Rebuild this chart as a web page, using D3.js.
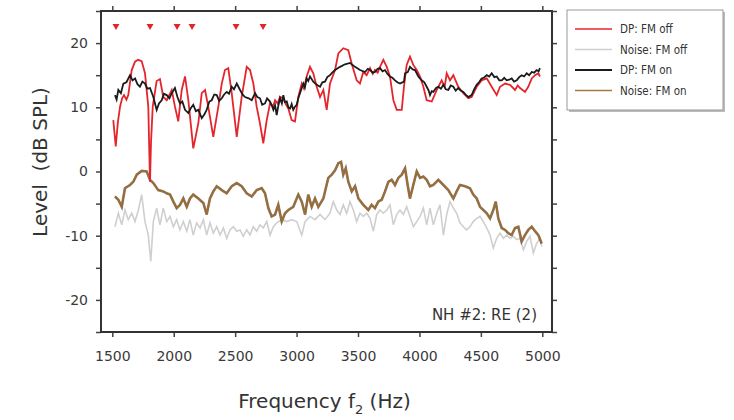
<!DOCTYPE html>
<html>
<head>
<meta charset="utf-8">
<script src="https://cdn.jsdelivr.net/npm/d3@7"></script>
<style>
  body { margin: 0; background: #fff; }
  svg { font-family: "DejaVu Sans", Verdana, sans-serif; }
</style>
</head>
<body>
<svg id="chart" width="734" height="420"></svg>
<script>
// series: [frequency f2 (Hz), level (dB SPL)]
var dpOff = [[1508,8.0],[1528,3.9],[1545,7.6],[1563,10.1],[1580,11.4],[1595,11.9],[1615,11.2],[1630,11.9],[1658,15.8],[1685,17.1],[1710,17.4],[1739,17.2],[1766,15.3],[1793,10.1],[1800,4.0],[1807,-1.6],[1815,4.5],[1829,10.1],[1861,14.1],[1888,14.4],[1915,11.6],[1943,11.1],[1984,12.7],[2010,10.1],[2037,7.8],[2065,12.7],[2092,14.8],[2119,11.1],[2159,3.6],[2200,7.5],[2228,12.2],[2255,12.7],[2281,10.1],[2322,5.4],[2363,10.1],[2391,13.7],[2417,15.8],[2444,16.1],[2472,12.2],[2513,5.4],[2553,11.6],[2594,16.3],[2621,15.8],[2648,13.7],[2675,10.1],[2702,7.5],[2729,4.4],[2757,8.0],[2784,10.6],[2810,10.2],[2825,11.1],[2845,10.6],[2865,11.6],[2892,11.4],[2915,10.4],[2933,9.8],[2960,8.0],[2987,7.8],[3014,11.6],[3042,13.7],[3060,12.9],[3082,14.8],[3109,16.3],[3136,15.3],[3164,13.2],[3191,11.6],[3218,12.7],[3245,9.6],[3272,13.7],[3313,15.8],[3340,18.4],[3380,19.2],[3421,18.9],[3449,16.8],[3489,14.2],[3516,13.7],[3543,15.5],[3570,15.0],[3598,16.1],[3620,15.2],[3638,15.8],[3660,15.4],[3679,16.3],[3706,17.4],[3734,16.3],[3760,14.8],[3788,11.1],[3815,9.6],[3856,9.6],[3874,13.2],[3896,16.6],[3923,17.9],[3950,16.6],[3978,15.8],[4005,14.8],[4032,13.2],[4059,11.1],[4100,10.9],[4141,12.7],[4181,14.2],[4205,13.2],[4222,15.3],[4249,14.2],[4276,15.0],[4316,13.2],[4357,12.2],[4398,11.4],[4425,11.6],[4466,13.2],[4506,14.2],[4548,14.5],[4588,13.2],[4629,11.9],[4656,13.2],[4697,13.7],[4737,13.5],[4778,12.7],[4800,13.4],[4819,13.0],[4859,12.4],[4886,13.2],[4914,14.5],[4941,15.0],[4968,15.3],[4981,14.8]];

var noiseOff = [[1522,-8.6],[1549,-6.5],[1577,-8.3],[1603,-6.0],[1630,-7.5],[1658,-6.5],[1685,-7.8],[1712,-6.0],[1739,-3.6],[1766,-7.8],[1793,-9.9],[1813,-14.0],[1834,-7.8],[1861,-5.7],[1888,-8.3],[1915,-5.7],[1943,-7.8],[1970,-7.0],[1997,-8.6],[2024,-7.5],[2051,-9.1],[2078,-7.8],[2106,-9.3],[2132,-7.5],[2159,-9.9],[2187,-8.0],[2214,-8.8],[2241,-7.5],[2268,-9.9],[2295,-8.0],[2322,-9.6],[2350,-8.6],[2377,-9.9],[2404,-8.8],[2431,-10.4],[2458,-9.1],[2485,-8.6],[2513,-9.3],[2540,-9.1],[2566,-10.1],[2594,-9.1],[2621,-9.9],[2648,-8.6],[2675,-9.3],[2702,-8.3],[2729,-8.8],[2757,-7.8],[2784,-9.9],[2811,-8.6],[2838,-8.0],[2879,-7.5],[2920,-7.8],[2960,-7.5],[3001,-7.8],[3042,-9.9],[3069,-7.8],[3109,-7.0],[3150,-7.5],[3191,-6.7],[3231,-7.5],[3272,-6.5],[3299,-4.7],[3327,-6.0],[3354,-6.7],[3380,-5.2],[3408,-6.5],[3435,-4.7],[3462,-6.0],[3489,-7.8],[3516,-6.5],[3543,-7.0],[3571,-6.5],[3598,-7.3],[3625,-9.3],[3652,-6.7],[3679,-6.0],[3706,-6.5],[3734,-6.0],[3760,-5.2],[3788,-8.3],[3815,-6.7],[3842,-6.0],[3869,-6.7],[3896,-5.5],[3923,-7.0],[3950,-8.6],[3978,-7.8],[4005,-7.0],[4032,-5.7],[4059,-8.3],[4086,-5.7],[4113,-8.3],[4141,-6.5],[4167,-5.2],[4195,-9.9],[4222,-6.7],[4249,-4.7],[4276,-5.7],[4303,-6.5],[4330,-8.0],[4357,-8.6],[4384,-9.1],[4411,-8.6],[4438,-7.8],[4466,-7.3],[4493,-7.0],[4520,-7.8],[4548,-8.8],[4575,-9.9],[4601,-11.9],[4629,-10.4],[4656,-9.6],[4683,-10.4],[4710,-9.9],[4737,-10.4],[4764,-10.1],[4792,-10.6],[4819,-10.4],[4846,-12.2],[4873,-10.9],[4900,-10.1],[4927,-12.7],[4954,-11.2],[4981,-10.4],[4995,-11.7]];

var dpOn = [[1522,11.9],[1535,11.2],[1549,12.7],[1570,12.2],[1590,13.7],[1615,13.9],[1644,15.0],[1665,14.2],[1685,14.5],[1705,13.6],[1725,13.2],[1745,14.0],[1766,13.7],[1785,12.9],[1807,13.0],[1834,11.6],[1861,9.6],[1880,10.6],[1902,11.1],[1920,12.1],[1943,11.9],[1965,11.4],[1984,12.2],[2010,13.0],[2030,11.6],[2051,10.6],[2070,10.9],[2092,9.6],[2119,9.1],[2140,9.9],[2159,10.4],[2180,9.4],[2200,9.6],[2228,8.3],[2250,8.9],[2268,9.6],[2290,10.9],[2309,11.1],[2330,12.0],[2350,11.9],[2370,11.0],[2391,11.4],[2410,12.0],[2431,12.4],[2450,12.1],[2472,13.2],[2490,12.8],[2513,13.7],[2540,12.7],[2560,12.0],[2580,11.6],[2610,11.4],[2635,11.1],[2662,12.2],[2680,11.6],[2702,11.4],[2720,10.4],[2743,10.6],[2760,11.4],[2784,10.9],[2800,10.2],[2811,9.6],[2825,10.3],[2838,8.8],[2850,10.1],[2865,11.4],[2880,10.6],[2892,11.9],[2905,10.8],[2920,10.9],[2935,9.9],[2947,9.8],[2960,10.5],[2973,9.6],[2987,10.1],[3001,10.4],[3015,11.5],[3028,12.2],[3040,12.9],[3055,13.7],[3068,13.1],[3082,14.5],[3095,14.1],[3109,14.8],[3136,14.0],[3164,13.5],[3191,13.2],[3210,13.9],[3231,14.0],[3250,14.7],[3272,15.0],[3290,15.4],[3313,15.8],[3354,16.3],[3394,16.7],[3435,16.9],[3476,16.3],[3516,15.8],[3557,15.5],[3580,16.0],[3598,15.8],[3620,15.4],[3638,15.5],[3660,16.0],[3679,16.1],[3700,15.6],[3720,15.8],[3740,15.2],[3760,14.8],[3780,14.6],[3801,14.2],[3820,13.9],[3842,13.7],[3874,14.0],[3883,15.3],[3905,15.5],[3923,16.3],[3945,15.9],[3964,15.8],[3991,14.8],[4018,14.2],[4040,13.9],[4059,13.2],[4075,12.6],[4086,11.9],[4100,12.5],[4113,12.4],[4135,13.0],[4154,13.2],[4175,12.9],[4195,13.5],[4215,12.8],[4235,12.7],[4255,13.4],[4276,13.2],[4295,12.6],[4316,13.0],[4335,12.6],[4357,12.4],[4380,11.9],[4398,11.6],[4425,11.9],[4445,12.8],[4466,13.5],[4485,13.9],[4506,14.5],[4525,14.6],[4548,15.0],[4568,14.8],[4588,15.3],[4610,14.7],[4629,14.8],[4650,14.2],[4670,14.2],[4690,14.6],[4710,14.2],[4730,14.3],[4751,14.5],[4770,14.0],[4792,14.2],[4812,14.7],[4832,15.0],[4852,14.8],[4873,15.3],[4893,15.0],[4914,15.5],[4934,15.4],[4954,15.8],[4970,15.6],[4981,16.1]];

var noiseOn = [[1522,-3.9],[1549,-4.4],[1577,-5.5],[1603,-2.6],[1644,-2.1],[1671,-1.6],[1699,-0.5],[1739,0.1],[1780,0.0],[1807,-1.3],[1834,-1.8],[1874,-2.9],[1915,-3.1],[1943,-3.4],[1970,-3.6],[1997,-4.7],[2024,-5.7],[2051,-5.2],[2078,-4.2],[2106,-5.5],[2132,-4.2],[2159,-3.6],[2200,-4.2],[2241,-4.9],[2268,-6.7],[2295,-4.2],[2322,-3.1],[2350,-2.3],[2391,-2.9],[2431,-3.4],[2472,-2.3],[2513,-1.8],[2553,-2.3],[2594,-3.4],[2635,-3.9],[2675,-2.9],[2716,-2.6],[2743,-3.4],[2770,-5.7],[2797,-7.0],[2825,-6.7],[2851,-5.2],[2879,-7.8],[2906,-6.5],[2933,-6.0],[2973,-5.5],[3014,-3.6],[3042,-4.7],[3069,-6.7],[3095,-3.6],[3123,-5.5],[3150,-4.2],[3177,-5.5],[3218,-4.2],[3258,-1.0],[3286,-0.5],[3313,0.2],[3340,1.3],[3362,1.5],[3380,-0.5],[3400,0.5],[3421,-1.6],[3449,-3.1],[3476,-2.3],[3503,-4.2],[3543,-5.2],[3584,-6.0],[3611,-5.2],[3638,-5.7],[3665,-4.7],[3693,-4.4],[3720,-3.1],[3747,-1.6],[3774,-1.3],[3801,-2.1],[3828,-1.0],[3856,-0.5],[3883,0.5],[3904,-2.1],[3923,-4.2],[3950,-2.1],[3978,0.0],[4005,-1.0],[4032,-0.8],[4059,-1.3],[4086,-2.3],[4113,-2.1],[4154,-1.3],[4195,-2.1],[4235,-2.9],[4276,-4.2],[4303,-3.1],[4330,-2.1],[4371,-2.3],[4411,-2.6],[4438,-3.6],[4466,-4.2],[4493,-5.5],[4520,-6.0],[4548,-6.5],[4575,-7.3],[4601,-6.0],[4621,-4.7],[4642,-7.3],[4670,-8.8],[4697,-9.1],[4723,-9.6],[4751,-9.9],[4778,-8.8],[4805,-8.6],[4832,-10.9],[4859,-9.9],[4886,-9.1],[4914,-8.6],[4941,-9.3],[4968,-9.9],[4995,-11.2]];

// red markers along the top
var markerFreqs = [1530, 1807, 2027, 2149, 2507, 2727];
var markerLevel = 22.5;

var xTicks = [1500, 2000, 2500, 3000, 3500, 4000, 4500, 5000];
var yTicks = [-20, -10, 0, 10, 20];
var yMinorTicks = [-25, -15, -5, 5, 15, 25];

var legendNames = ["DP: FM off", "Noise: FM off", "DP: FM on", "Noise: FM on"];
var noteText = "NH #2: RE (2)";

// colors / widths
var colors = { dpOff: "#e4252c", noiseOff: "#cfcfcf", dpOn: "#1b1b1b", noiseOn: "#9c6c34" };
var legendColors = ["#e4252c", "#cfcfcf", "#1b1b1b", "#a87a40"];

var margin = {top: 11, right: 182, bottom: 88, left: 101};
var width = 734 - margin.left - margin.right;
var height = 420 - margin.top - margin.bottom;

var svg = d3.select("#chart");
var g = svg.append("g").attr("transform", "translate(" + margin.left + "," + margin.top + ")");

var x = d3.scaleLinear().domain([1408, 5079]).range([0, width]);
var y = d3.scaleLinear().domain([-25, 25]).range([height, 0]);

// plain hyphen for negatives, like the original
var fmt = d => String(d);

// axes (ticks on all four sides, outward)
var tickColor = "#444";
g.append("g").attr("transform", "translate(0," + height + ")")
    .call(d3.axisBottom(x).tickValues(xTicks).tickSize(5).tickPadding(14).tickFormat(fmt))
    .call(a => a.select(".domain").remove());
g.append("g")
    .call(d3.axisTop(x).tickValues(xTicks).tickSize(5).tickFormat(""))
    .call(a => a.select(".domain").remove());
g.append("g")
    .call(d3.axisLeft(y).tickValues(yTicks).tickSize(5).tickPadding(8).tickFormat(fmt))
    .call(a => a.select(".domain").remove());
g.append("g")
    .call(d3.axisLeft(y).tickValues(yMinorTicks).tickSize(5).tickFormat(""))
    .call(a => a.select(".domain").remove());
g.append("g").attr("transform", "translate(" + width + ",0)")
    .call(d3.axisRight(y).tickValues(yTicks.concat(yMinorTicks)).tickSize(5).tickFormat(""))
    .call(a => a.select(".domain").remove());

g.selectAll(".tick line").attr("stroke", tickColor).attr("stroke-width", 1.5);
g.selectAll(".tick text").attr("fill", "#3a3a3a").style("font-size", "14px")
    .style("font-family", "'DejaVu Sans', sans-serif");

// line generator
var line = d3.line().x(d => x(d[0])).y(d => y(d[1]));

g.append("path").datum(noiseOff).attr("d", line)
    .attr("fill", "none").attr("stroke", colors.noiseOff).attr("stroke-width", 1.6);
g.append("path").datum(noiseOn).attr("d", line)
    .attr("fill", "none").attr("stroke", "#5a4020").attr("stroke-width", 2.6).attr("stroke-opacity", 0.7);
g.append("path").datum(noiseOn).attr("d", line)
    .attr("fill", "none").attr("stroke", colors.noiseOn).attr("stroke-width", 1.6);
g.append("path").datum(dpOff).attr("d", line)
    .attr("fill", "none").attr("stroke", colors.dpOff).attr("stroke-width", 1.8);
g.append("path").datum(dpOn).attr("d", line)
    .attr("fill", "none").attr("stroke", colors.dpOn).attr("stroke-width", 1.8);

// triangle markers
g.selectAll(".marker").data(markerFreqs).enter().append("path")
    .attr("class", "marker")
    .attr("transform", d => "translate(" + x(d) + "," + y(markerLevel) + ")")
    .attr("d", "M-3.5,-3 L3.5,-3 L0,3 Z")
    .attr("fill", "#e0262b");

// frame
g.append("rect").attr("width", width).attr("height", height)
    .attr("fill", "none").attr("stroke", "#333").attr("stroke-width", 2);

// annotation
g.append("text").attr("x", width - 15).attr("y", height - 12)
    .attr("text-anchor", "end").attr("fill", "#333").style("font-size", "15px")
    .text(noteText);

// axis titles
var xTitle = svg.append("text").attr("x", margin.left + width / 2 - 2).attr("y", 408)
    .attr("text-anchor", "middle").attr("fill", "#333").style("font-size", "20px");
xTitle.append("tspan").text("Frequency f");
xTitle.append("tspan").attr("dy", 6).style("font-size", "13px").text("2");
xTitle.append("tspan").attr("dy", -6).text(" (Hz)");

svg.append("text").attr("transform", "translate(47,162) rotate(-90)")
    .attr("text-anchor", "middle").attr("fill", "#333").style("font-size", "20px")
    .attr("xml:space", "preserve")
    .text("Level  (dB SPL)");

// legend
var lg = svg.append("g").attr("transform", "translate(567,10)");
lg.append("rect").attr("x", 2).attr("y", 2).attr("width", 156).attr("height", 100).attr("fill", "#bbb");
lg.append("rect").attr("width", 156).attr("height", 100).attr("fill", "#fff").attr("stroke", "#999");
legendNames.forEach(function (n, i) {
    var yy = 19 + i * 20.5;
    lg.append("line").attr("x1", 8).attr("x2", 45).attr("y1", yy).attr("y2", yy)
        .attr("stroke", legendColors[i]).attr("stroke-width", i == 2 ? 2.2 : 1.6);
    lg.append("text").attr("x", 53).attr("y", yy + 4).attr("fill", "#333")
        .style("font-size", "11.5px").style("font-family", "'DejaVu Sans Condensed', 'DejaVu Sans', sans-serif")
        .text(n);
});
</script>
</body>
</html>
